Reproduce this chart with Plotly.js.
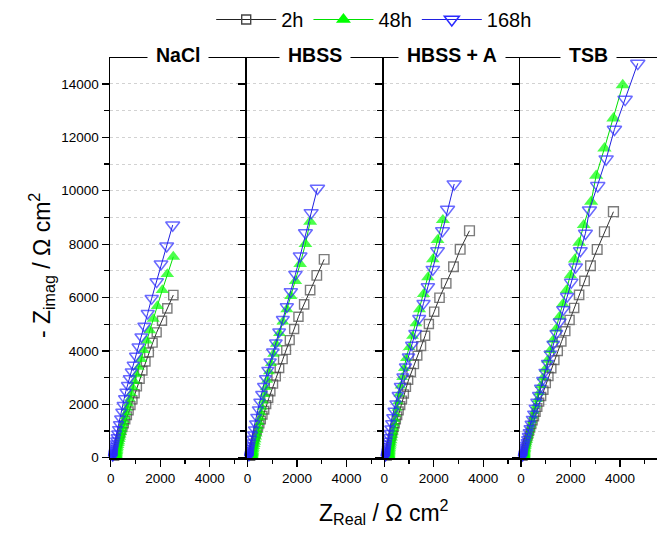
<!DOCTYPE html>
<html><head><meta charset="utf-8">
<script src="https://cdn.plot.ly/plotly-3.0.1.min.js"></script>
<style>html,body{margin:0;padding:0;background:#fff}</style>
</head><body><div id="chart" style="width:657px;height:534px"></div>
<script>
const panelNames = ['NaCl', 'HBSS', 'HBSS + A', 'TSB'];
const seriesNames = ['2h', '48h', '168h'];

// NaCl
const nacl2hX = [2530,2288,2073,1858,1697,1548,1414,1293,1184,1075,985,900,822,750,683,620,562,510,462,420,382,350,322,298,278,261,247,236,227,220,214,209,205,202,200,198,197];
const nacl2hY = [6093,5594,5131,4696,4307,3947,3596,3258,2947,2659,2400,2165,1950,1755,1575,1410,1260,1125,1000,885,780,685,600,520,450,385,328,277,232,192,157,126,99,76,56,39,25];
const nacl48hX = [2530,2288,2086,1883,1720,1580,1450,1335,1230,1130,1040,965,895,830,770,715,668,625,588,555,527,502,480,460,442,426,411,397,384,372,361,351,342,334,327,321,316,312,309,306];
const nacl48hY = [7528,6879,6280,5681,5200,4770,4380,4020,3690,3390,3110,2860,2630,2410,2210,2020,1850,1690,1540,1400,1270,1150,1040,935,840,750,665,585,510,440,375,315,260,210,165,125,90,60,35,15];
const nacl168hX = [2505,2262,2032,1858,1656,1495,1358,1236,1115,1010,913,832,751,671,606,549,485,428,376,323,280,245,215,190,170,152,138,126,116,108,101,96,92,89,86,84,83];
const nacl168hY = [8714,7928,7254,6591,5970,5408,4932,4532,4157,3809,3472,3221,2973,2723,2472,2224,1974,1723,1475,1262,1080,920,780,660,555,465,385,318,260,210,168,132,100,74,52,34,20];

// HBSS
const hbss2hX = [3099,2802,2533,2291,2061,1887,1709,1563,1430,1293,1159,1050,945,860,780,705,635,572,515,463,417,376,340,309,282,259,240,224,211,200,192,185,180,176,173,171,169,168,167];
const hbss2hY = [7429,6829,6280,5745,5281,4820,4408,4033,3685,3348,3034,2760,2472,2220,1990,1780,1590,1415,1260,1120,990,875,770,675,590,512,442,380,324,274,230,190,155,124,97,73,52,34,20];
const hbss48hX = [2533,2343,2129,1939,1753,1592,1430,1293,1159,1050,955,870,795,735,680,632,590,552,518,488,461,437,416,397,380,364,350,337,325,315,306,298,291,285,280,276,273,271];
const hbss48hY = [8838,8003,7254,6617,6056,5558,5093,4659,4258,3884,3535,3221,2910,2637,2370,2120,1890,1680,1490,1315,1155,1010,880,762,656,560,475,400,333,274,222,177,138,104,75,50,30,14];
const hbss168hX = [2828,2573,2343,2129,1939,1753,1592,1430,1281,1147,1026,917,824,727,646,566,485,420,351,299,250,212,180,155,134,117,103,92,83,76,70,66,63,61,59];
const hbss168hY = [10089,9176,8426,7554,6868,6217,5655,5183,4719,4307,3970,3595,3284,2973,2685,2386,2097,1813,1535,1288,1070,885,725,590,478,385,308,245,193,150,115,86,62,42,26];

// HBSS + A
const hbssa2hX = [3446,3070,2800,2505,2235,2020,1806,1656,1495,1345,1212,1091,983,895,815,740,672,610,553,502,456,415,379,347,319,294,272,253,237,223,211,201,193,186,180,175,171,168,166,164,163];
const hbssa2hY = [8501,7805,7153,6531,5992,5468,5007,4569,4183,3820,3498,3198,2910,2640,2390,2160,1950,1755,1575,1410,1260,1120,995,880,777,683,598,521,452,390,334,284,240,200,165,134,106,82,60,42,26];
const hbssa48hX = [2371,2155,1966,1765,1589,1427,1280,1143,1010,889,800,725,660,603,555,515,482,454,430,409,391,375,361,348,337,327,318,310,303,297,292,288,284,281,279,277,276];
const hbssa48hY = [8902,8153,7430,6756,6131,5558,5033,4558,4134,3722,3348,3011,2685,2386,2097,1850,1630,1430,1255,1095,955,830,720,622,535,458,390,330,277,230,188,150,117,88,62,40,22];
const hbssa168hX = [2828,2559,2357,2155,1966,1765,1589,1414,1252,1118,983,861,755,646,553,457,376,320,272,232,198,170,147,128,112,99,88,79,72,66,62,58,55,53,51,50];
const hbssa168hY = [10250,9302,8501,7752,7055,6404,5782,5220,4659,4221,3783,3408,3034,2685,2348,2037,1760,1520,1300,1105,935,785,655,545,450,370,302,245,198,158,125,97,73,53,36,22];

// TSB
const tsb2hX = [3737,3373,3080,2810,2570,2350,2150,1965,1795,1640,1495,1360,1240,1125,1020,925,838,758,685,618,557,502,452,407,367,331,299,271,246,224,205,189,175,163,153,145,138,133,129,126,124,122,121,120];
const tsb2hY = [9213,8464,7800,7190,6620,6100,5610,5160,4740,4350,3990,3655,3340,3050,2780,2530,2295,2080,1880,1695,1525,1368,1225,1093,972,862,763,672,590,516,449,389,335,287,244,206,172,142,115,92,71,53,37,24];
const tsb48hX = [4113,3737,3373,3038,2836,2537,2350,2170,2000,1840,1690,1550,1420,1295,1180,1070,970,880,800,728,662,602,548,500,457,420,388,360,336,315,297,282,269,258,249,242,236,231,227,224,222,220,218,217];
const tsb48hY = [13958,12710,11587,10561,9587,8715,8050,7420,6830,6280,5760,5280,4830,4410,4020,3655,3315,3000,2705,2435,2185,1955,1745,1555,1380,1222,1078,948,830,724,629,543,466,397,336,282,234,192,155,123,95,70,48,30];
const tsb168hX = [4719,4210,3777,3442,3103,2767,2606,2400,2210,2030,1865,1710,1565,1430,1305,1185,1075,970,875,785,700,625,555,490,432,380,333,291,254,222,194,170,150,133,118,106,96,88,81,76,72,69,67];
const tsb168hY = [14770,13422,12299,11186,10186,9276,8404,7750,7140,6570,6040,5550,5090,4660,4260,3890,3540,3210,2905,2620,2350,2100,1870,1655,1460,1280,1115,965,830,708,600,505,420,347,283,228,182,142,108,80,56,36,20];

const xTickVals = [0, 2000, 4000];
const yTickVals = [0, 2000, 4000, 6000, 8000, 10000, 12000, 14000];

const panelSeries = [
  [[nacl2hX, nacl2hY], [nacl48hX, nacl48hY], [nacl168hX, nacl168hY]],
  [[hbss2hX, hbss2hY], [hbss48hX, hbss48hY], [hbss168hX, hbss168hY]],
  [[hbssa2hX, hbssa2hY], [hbssa48hX, hbssa48hY], [hbssa168hX, hbssa168hY]],
  [[tsb2hX, tsb2hY], [tsb48hX, tsb48hY], [tsb168hX, tsb168hY]]
];

const styles = [
  {symbol: 'square-open', color: '#444444', lineColor: '#333333', lw: 1.4, scale: 0.8, legendSize: 9},
  {symbol: 'triangle-up', color: '#00ff00', lineColor: '#00e000', lw: 0, scale: 1.0, legendSize: 13},
  {symbol: 'triangle-down-open', color: '#2a2aff', lineColor: '#2020e0', lw: 1.5, scale: 1.0, legendSize: 13}
];

function markerSize(y, scale) {
  const s = 12.5 * Math.pow(Math.max(y, 1) / 10000, 0.15);
  return Math.min(12.5, Math.max(7.5, s)) * scale;
}

const traces = [];
panelSeries.forEach((series, p) => {
  const ax = p === 0 ? '' : String(p + 1);
  series.forEach((xy, k) => {
    const st = styles[k];
    traces.push({
      type: 'scatter', mode: 'lines+markers',
      x: xy[0], y: xy[1],
      xaxis: 'x' + ax, yaxis: 'y' + ax,
      name: seriesNames[k], legendgroup: seriesNames[k], showlegend: false,
      line: {color: st.lineColor, width: 1},
      marker: {symbol: st.symbol, color: st.color, size: xy[1].map(v => markerSize(v, st.scale)),
               line: {color: st.color, width: st.lw}},
      cliponaxis: false
    });
  });
});
// legend entries (no data drawn)
seriesNames.forEach((nm, k) => {
  const st = styles[k];
  traces.push({
    type: 'scatter', mode: 'lines+markers', x: [null], y: [null],
    name: nm, legendgroup: nm, showlegend: true,
    line: {color: k === 0 ? '#222' : st.lineColor, width: 1.2},
    marker: {symbol: st.symbol, color: st.color, size: st.legendSize, line: {color: st.color, width: st.lw}}
  });
});

const font = {family: 'Arial, "Liberation Sans", sans-serif', color: '#000'};
const layout = {
  width: 657, height: 534,
  margin: {l: 110, r: 0, t: 58, b: 76},
  paper_bgcolor: '#fff', plot_bgcolor: '#fff',
  font: Object.assign({}, font, {size: 13}),
  showlegend: true,
  legend: {orientation: 'h', x: 0.185, xanchor: 'left', y: 1.0975, yanchor: 'middle',
           font: Object.assign({}, font, {size: 20}), bgcolor: 'rgba(0,0,0,0)',
           traceorder: 'normal', itemwidth: 60},
  annotations: [],
  shapes: []
};

for (let p = 0; p < 4; p++) {
  const ax = p === 0 ? '' : String(p + 1);
  layout['xaxis' + ax] = {
    domain: [p / 4, (p + 1) / 4], anchor: 'y' + ax,
    range: [-28, 5497], tickvals: xTickVals, ticktext: xTickVals.map(String),
    ticks: 'outside', ticklen: 7, tickwidth: 1.2, tickcolor: '#000',
    minor: {dtick: 1000, tick0: 0, ticks: 'outside', ticklen: 4, tickwidth: 1.2, tickcolor: '#000', showgrid: false},
    showline: true, mirror: true, linecolor: '#000', linewidth: 1.5,
    showgrid: false, zeroline: false, tickfont: Object.assign({}, font, {size: 13.5})
  };
  layout['yaxis' + ax] = {
    domain: [0, 1], anchor: 'x' + ax,
    range: [-10, 14970], tickvals: yTickVals, ticktext: yTickVals.map(String),
    ticks: 'outside', ticklen: 7, tickwidth: 1.2, tickcolor: '#000',
    minor: {dtick: 1000, tick0: 0, ticks: 'outside', ticklen: 5, tickwidth: 1.2, tickcolor: '#000',
            showgrid: true, gridcolor: '#d2d2d2', griddash: 'dot', gridwidth: 1},
    showline: true, linecolor: '#000', linewidth: 1.5,
    showgrid: false, zeroline: false, showticklabels: p === 0,
    tickfont: Object.assign({}, font, {size: 13.5})
  };
  if (p > 0) layout['yaxis' + ax].matches = 'y';
  layout.annotations.push({
    xref: 'paper', yref: 'paper', x: (p + 0.5) / 4, y: 1, yanchor: 'middle', xanchor: 'center', yshift: 3,
    text: '<b>' + panelNames[p] + '</b>', showarrow: false,
    font: Object.assign({}, font, {size: 19.5}), bgcolor: '#fff', borderpad: 8
  });
}

layout.annotations.push({
  xref: 'paper', yref: 'paper', x: 0.5, y: -0.135, xanchor: 'center', yanchor: 'middle',
  text: 'Z<sub>Real</sub> / Ω cm<sup>2</sup>', showarrow: false,
  font: Object.assign({}, font, {size: 23})
});
layout.annotations.push({
  xref: 'paper', yref: 'paper', x: -0.126, y: 0.48, xanchor: 'center', yanchor: 'middle',
  text: '- Z<sub>imag</sub> / Ω cm<sup>2</sup>', showarrow: false, textangle: -90,
  font: Object.assign({}, font, {size: 23})
});

Plotly.newPlot('chart', traces, layout, {displayModeBar: false, staticPlot: true});
</script>
</body></html>
